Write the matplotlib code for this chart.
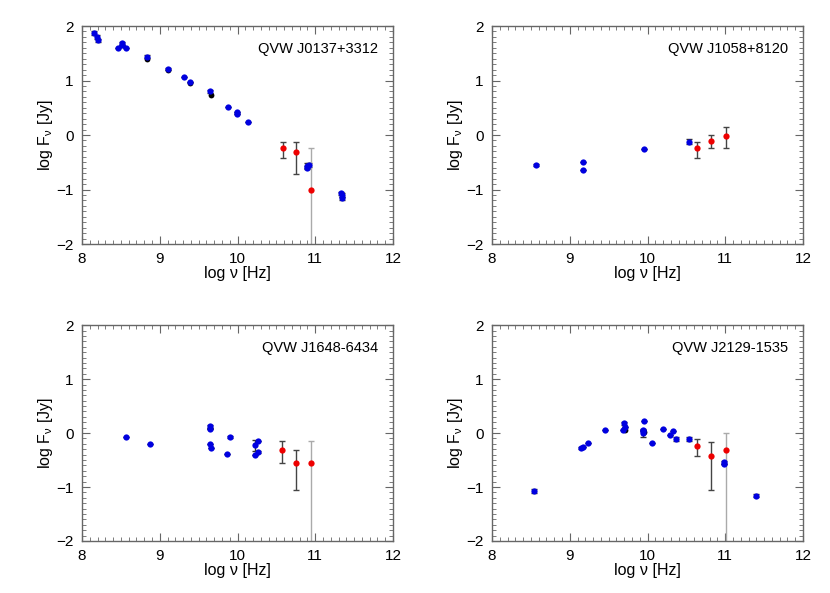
import matplotlib
matplotlib.use("Agg")
import matplotlib.pyplot as plt
from matplotlib.ticker import MultipleLocator

plt.rcParams['font.family'] = ['Liberation Sans', 'DejaVu Sans']
plt.rcParams['mathtext.fontset'] = 'custom'
plt.rcParams['mathtext.rm'] = 'Liberation Sans'
plt.rcParams['mathtext.it'] = 'Liberation Sans'

# J0137+3312
a_bx = [8.15, 8.19, 8.20, 8.46, 8.52, 8.52, 8.56, 8.83, 9.10, 9.31, 9.39, 9.65, 9.88, 9.99, 9.99, 10.14, 10.89, 10.92, 10.90, 11.34, 11.35, 11.33]
a_by = [1.87, 1.80, 1.74, 1.59, 1.68, 1.65, 1.60, 1.44, 1.21, 1.07, 0.97, 0.80, 0.52, 0.42, 0.39, 0.23, -0.56, -0.55, -0.60, -1.10, -1.16, -1.07]
a_be = [0.04, 0.03, 0.03, 0.0, 0.03, 0.0, 0.0, 0.02, 0.02, 0.0, 0.0, 0.03, 0.0, 0.0, 0.0, 0.0, 0.04, 0.03, 0.03, 0.04, 0.03, 0.03]
a_kx = [8.83, 9.10, 9.39, 9.66]
a_ky = [1.40, 1.20, 0.96, 0.73]
a_rx = [10.58, 10.75, 10.95]
a_ry = [-0.24, -0.32, -1.01]
a_rlo = [-0.42, -0.72, -2.5]
a_rhi = [-0.12, -0.12, -0.23]

# J1058+8120
b_bx = [8.565, 9.17, 9.17, 9.95, 10.53]
b_by = [-0.55, -0.49, -0.64, -0.26, -0.12]
b_be = [0.02, 0.0, 0.0, 0.0, 0.05]
b_kx = []
b_ky = []
b_rx = [10.64, 10.82, 11.01]
b_ry = [-0.23, -0.11, -0.01]
b_rlo = [-0.42, -0.24, -0.24]
b_rhi = [-0.12, 0.0, 0.14]

# J1648-6434
c_bx = [8.565, 8.88, 9.65, 9.65, 9.64, 9.66, 9.87, 9.90, 10.22, 10.22, 10.27, 10.27]
c_by = [-0.07, -0.20, 0.125, 0.08, -0.20, -0.27, -0.39, -0.08, -0.23, -0.41, -0.14, -0.35]
c_be = [0.0, 0.0, 0.03, 0.0, 0.0, 0.0, 0.0, 0.02, 0.11, 0.0, 0.0, 0.02]
c_kx = [9.65]
c_ky = [0.09]
c_rx = [10.575, 10.75, 10.94]
c_ry = [-0.32, -0.55, -0.55]
c_rlo = [-0.56, -1.06, -2.5]
c_rhi = [-0.15, -0.32, -0.15]

# J2129-1535
d_bx = [8.535, 9.15, 9.17, 9.24, 9.45, 9.68, 9.70, 9.71, 9.94, 9.945, 9.94, 9.955, 10.06, 10.20, 10.29, 10.33, 10.37, 10.53, 10.99, 10.99, 11.40]
d_by = [-1.07, -0.27, -0.25, -0.19, 0.06, 0.06, 0.18, 0.11, 0.0, 0.06, 0.03, 0.22, -0.19, 0.08, -0.04, 0.03, -0.11, -0.11, -0.54, -0.575, -1.16]
d_be = [0.04, 0.02, 0.0, 0.0, 0.0, 0.0, 0.03, 0.0, 0.07, 0.0, 0.0, 0.0, 0.0, 0.0, 0.0, 0.0, 0.03, 0.03, 0.03, 0.0, 0.03]
d_kx = [9.71, 9.95]
d_ky = [0.06, 0.02]
d_rx = [10.64, 10.82, 11.01]
d_ry = [-0.24, -0.43, -0.32]
d_rlo = [-0.43, -1.06, -2.5]
d_rhi = [-0.11, -0.17, 0.0]

names = ["QVW J0137+3312", "QVW J1058+8120", "QVW J1648-6434", "QVW J2129-1535"]
frame = "#666666"


def panel(ax, name, bx, by, be, kx, ky, rx, ry, rlo, rhi):
    ax.errorbar(bx, by, yerr=be, fmt='none', ecolor='#333333', elinewidth=1, capsize=2, zorder=2)
    ax.plot(kx, ky, 'o', color='black', ms=4.2, mec='none', zorder=3)
    ax.plot(bx, by, 'o', color='#0000e0', ms=4.5, mec='none', zorder=4)
    for i in range(len(rx)):
        ec = '#aaaaaa' if rlo[i] < -2 else '#444444'
        ax.errorbar([rx[i]], [ry[i]], yerr=[[ry[i] - rlo[i]], [rhi[i] - ry[i]]], fmt='none',
                    ecolor=ec, elinewidth=1, capsize=2.5, zorder=2)
    ax.plot(rx, ry, 'o', color='#ee0000', ms=4.5, mec='none', zorder=5)

    ax.set_xlim(8, 12)
    ax.set_ylim(-2, 2)
    ax.xaxis.set_major_locator(MultipleLocator(1))
    ax.xaxis.set_minor_locator(MultipleLocator(0.1))
    ax.yaxis.set_major_locator(MultipleLocator(1))
    ax.yaxis.set_minor_locator(MultipleLocator(0.1))
    ax.tick_params(which='both', direction='in', top=True, right=True, color=frame, labelsize=11, pad=6)
    ax.tick_params(which='major', length=6)
    ax.tick_params(which='minor', length=3)
    for s in ax.spines.values():
        s.set_color(frame)
        s.set_linewidth(1.0)
    ax.set_xlabel("log \u03bd [Hz]", fontsize=11.5, labelpad=0)
    ax.set_ylabel(r"log F$_\mathregular{\nu}$ [Jy]", fontsize=11.5, labelpad=1)
    ax.text(0.952, 0.895, name, transform=ax.transAxes, ha='right', va='center', fontsize=10.5)


fig = plt.figure(figsize=(8.3, 5.93), dpi=100)
w = 0.3747
ax1 = fig.add_axes([0.0988, 0.5885, w, 0.3676])
ax2 = fig.add_axes([0.5928, 0.5885, w, 0.3676])
ax3 = fig.add_axes([0.0988, 0.0877, w, 0.364])
ax4 = fig.add_axes([0.5928, 0.0877, w, 0.364])

panel(ax1, names[0], a_bx, a_by, a_be, a_kx, a_ky, a_rx, a_ry, a_rlo, a_rhi)
panel(ax2, names[1], b_bx, b_by, b_be, b_kx, b_ky, b_rx, b_ry, b_rlo, b_rhi)
panel(ax3, names[2], c_bx, c_by, c_be, c_kx, c_ky, c_rx, c_ry, c_rlo, c_rhi)
panel(ax4, names[3], d_bx, d_by, d_be, d_kx, d_ky, d_rx, d_ry, d_rlo, d_rhi)

fig.savefig("out.png", dpi=100)
